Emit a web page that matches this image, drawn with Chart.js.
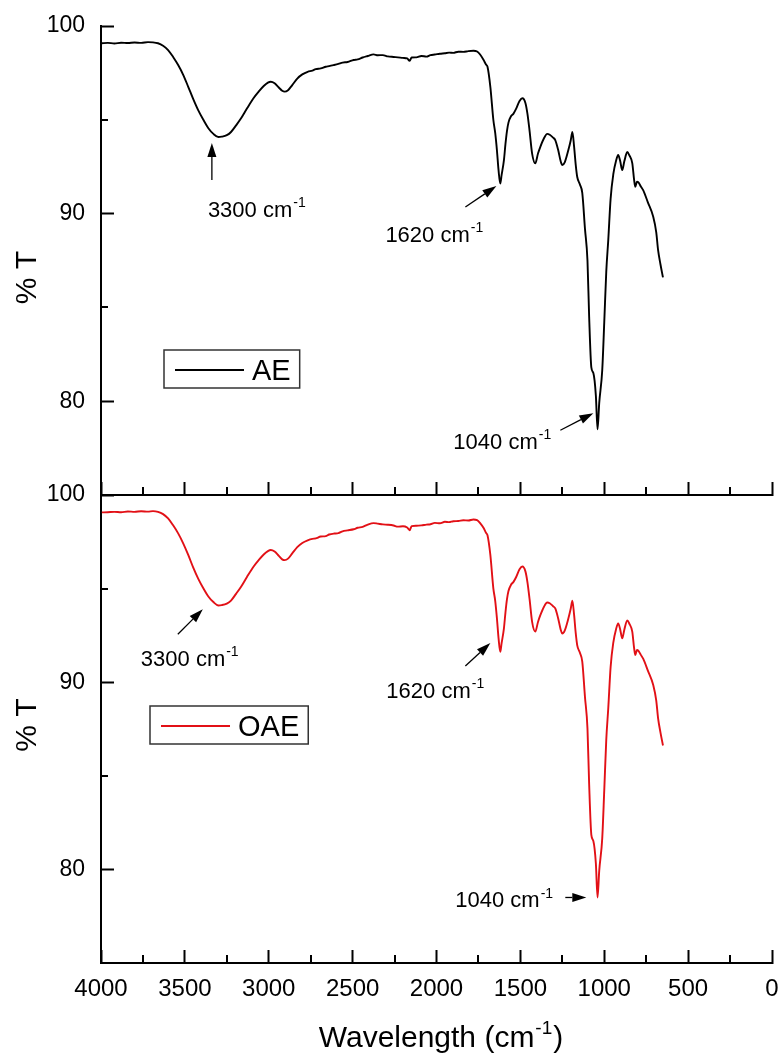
<!DOCTYPE html>
<html lang="en">
  <head>
    <meta charset="UTF-8" />
    <script src="https://cdn.jsdelivr.net/npm/chart.js"></script>
    <title>FTIR AE / OAE</title>
    <style>
      body { margin: 0; background: #fff; }
      #wrap { position: relative; width: 783px; height: 1056px; }
      #wrap canvas { position: absolute; left: 0; }
      #topChart { top: 0; }
      #bottomChart { top: 470px; }
    </style>
  </head>
  <body>
    <div id="wrap">
      <canvas id="topChart" width="783" height="500"></canvas>
      <canvas id="bottomChart" width="783" height="586"></canvas>
    </div>

    <script>
      // spectra (wavenumber in cm-1, transmittance in %)
      const wavenumbers = [
        3995, 3960, 3920, 3880, 3840, 3800, 3760, 3720, 3690, 3660,
        3630, 3600, 3570, 3540, 3510, 3480, 3450, 3420, 3390, 3360,
        3330, 3300, 3280, 3250, 3225, 3195, 3165, 3130, 3090, 3060,
        3030, 3005, 2988, 2965, 2940, 2920, 2905, 2885, 2860, 2830,
        2800, 2768, 2740, 2720, 2690, 2660, 2640, 2611, 2585, 2560,
        2530, 2494, 2470, 2440, 2410, 2375, 2350, 2320, 2290, 2256,
        2230, 2200, 2175, 2160, 2148, 2120, 2090, 2060, 2036, 2010,
        1980, 1950, 1925, 1900, 1870, 1840, 1810, 1780, 1758, 1740,
        1720, 1705, 1696, 1679, 1661, 1650, 1640, 1630, 1620, 1612,
        1598, 1589, 1580, 1571, 1555, 1541, 1525, 1505, 1488, 1470,
        1458, 1445, 1430, 1411, 1395, 1381, 1360, 1340, 1325, 1305,
        1292, 1275, 1260, 1250, 1235, 1214, 1200, 1190, 1180, 1170,
        1161, 1145, 1131, 1115, 1100, 1090, 1077, 1065, 1050, 1040,
        1030, 1012, 1000, 988, 976, 962, 946, 930, 917, 905,
        893, 880, 863, 850, 833, 822, 815, 805, 795, 782,
        768, 740, 708, 690, 679, 665, 650
      ];
      const aeT = [
        99.08, 99.10, 99.07, 99.11, 99.09, 99.12, 99.10, 99.14, 99.13, 99.08,
        98.95, 98.72, 98.35, 97.92, 97.40, 96.76, 96.10, 95.50, 95.00, 94.55,
        94.25, 94.08, 94.10, 94.18, 94.35, 94.70, 95.08, 95.60, 96.16, 96.50,
        96.80, 96.98, 97.03, 96.95, 96.72, 96.55, 96.50, 96.58, 96.85, 97.20,
        97.42, 97.56, 97.62, 97.70, 97.74, 97.83, 97.86, 97.92, 97.98, 98.05,
        98.08, 98.19, 98.22, 98.32, 98.40, 98.49, 98.44, 98.45, 98.38, 98.35,
        98.33, 98.30, 98.27, 98.15, 98.32, 98.33, 98.40, 98.37, 98.45, 98.48,
        98.52, 98.55, 98.58, 98.57, 98.63, 98.62, 98.66, 98.68, 98.64, 98.48,
        98.20, 97.95, 97.83, 96.76, 94.99, 94.30, 93.40, 92.30, 91.60, 92.05,
        92.85, 93.70, 94.40, 94.85, 95.20, 95.33, 95.60, 96.00, 96.15, 95.90,
        95.33, 94.40, 93.20, 92.68, 93.20, 93.56, 94.00, 94.25, 94.20, 94.05,
        93.92, 93.40, 92.80, 92.59, 92.75, 93.39, 93.90, 94.35, 93.60, 92.60,
        91.95, 91.55, 91.10, 89.20, 87.50, 84.50, 81.80, 81.50, 80.30, 78.50,
        79.90, 81.65, 84.20, 86.90, 88.60, 90.80, 92.10, 92.80, 93.12, 92.80,
        92.32, 92.80, 93.28, 93.10, 92.69, 91.80, 91.43, 91.70, 91.65, 91.45,
        91.25, 90.60, 89.83, 89.00, 88.05, 87.30, 86.60
      ];
      const oaeT = [
        99.07, 99.08, 99.10, 99.08, 99.12, 99.10, 99.13, 99.11, 99.14, 99.10,
        98.98, 98.75, 98.38, 97.95, 97.42, 96.80, 96.12, 95.52, 95.02, 94.58,
        94.28, 94.10, 94.12, 94.20, 94.36, 94.72, 95.10, 95.62, 96.18, 96.52,
        96.82, 97.00, 97.06, 96.98, 96.75, 96.56, 96.52, 96.60, 96.88, 97.22,
        97.44, 97.58, 97.66, 97.68, 97.78, 97.80, 97.89, 97.94, 97.96, 98.06,
        98.11, 98.17, 98.25, 98.30, 98.42, 98.50, 98.47, 98.43, 98.41, 98.37,
        98.31, 98.33, 98.26, 98.12, 98.34, 98.36, 98.38, 98.42, 98.44, 98.51,
        98.49, 98.57, 98.55, 98.60, 98.61, 98.65, 98.64, 98.69, 98.66, 98.50,
        98.25, 97.98, 97.85, 96.80, 95.00, 94.35, 93.44, 92.34, 91.62, 92.08,
        92.88, 93.72, 94.42, 94.87, 95.22, 95.36, 95.62, 96.03, 96.18, 95.92,
        95.35, 94.42, 93.22, 92.70, 93.22, 93.58, 94.02, 94.26, 94.22, 94.06,
        93.94, 93.42, 92.82, 92.60, 92.77, 93.40, 93.92, 94.36, 93.62, 92.62,
        91.97, 91.57, 91.10, 89.22, 87.52, 84.55, 81.85, 81.52, 80.32, 78.50,
        79.92, 81.66, 84.22, 86.92, 88.62, 90.82, 92.12, 92.82, 93.14, 92.82,
        92.34, 92.82, 93.30, 93.12, 92.70, 91.82, 91.45, 91.72, 91.66, 91.46,
        91.26, 90.62, 89.85, 89.02, 88.07, 87.32, 86.62
      ];

      const xTickValues = [4000, 3500, 3000, 2500, 2000, 1500, 1000, 500, 0];
      const xMinorTicks = [3750, 3250, 2750, 2250, 1750, 1250, 750, 250];
      const yTickValues = [80, 90, 100];
      const yMinorTicks = [85, 95];

      const FONT = "'Liberation Sans', Arial, sans-serif";
      Chart.defaults.font.family = FONT;
      Chart.defaults.color = '#000';

      function font(size) {
        return size + 'px ' + FONT;
      }

      // text with a "-1" superscript after it, e.g. cm-1
      function supText(ctx, base, sup, tail, x, y, size, align) {
        const supSize = Math.round(size * 0.62);
        ctx.font = font(size);
        const w1 = ctx.measureText(base).width;
        const w3 = tail ? ctx.measureText(tail).width : 0;
        ctx.font = font(supSize);
        const w2 = ctx.measureText(sup).width;
        const left = align === 'center' ? x - (w1 + w2 + w3 + 1) / 2 : x;
        ctx.textAlign = 'left';
        ctx.textBaseline = 'alphabetic';
        ctx.font = font(size);
        ctx.fillText(base, left, y);
        ctx.font = font(supSize);
        ctx.fillText(sup, left + w1 + 1, y - size * 0.45);
        if (tail) {
          ctx.font = font(size);
          ctx.fillText(tail, left + w1 + w2 + 2, y);
        }
      }

      function arrow(ctx, x0, y0, x1, y1) {
        const ang = Math.atan2(y1 - y0, x1 - x0);
        const head = 14, half = 4.5;
        const bx = x1 - head * Math.cos(ang), by = y1 - head * Math.sin(ang);
        ctx.lineWidth = 1.3;
        ctx.beginPath();
        ctx.moveTo(x0, y0);
        ctx.lineTo(bx, by);
        ctx.stroke();
        ctx.beginPath();
        ctx.moveTo(x1, y1);
        ctx.lineTo(bx + half * Math.sin(ang), by - half * Math.cos(ang));
        ctx.lineTo(bx - half * Math.sin(ang), by + half * Math.cos(ang));
        ctx.closePath();
        ctx.fill();
      }

      // minor ticks, y title, peak arrows, boxed legend and the x title
      const spectrumMarks = {
        id: 'spectrumMarks',
        afterDraw(chart, args, opts) {
          const ctx = chart.ctx;
          const xs = chart.scales.x, ys = chart.scales.y;
          const area = chart.chartArea;
          ctx.save();
          ctx.strokeStyle = '#000';
          ctx.fillStyle = '#000';
          ctx.lineWidth = 2;
          xMinorTicks.forEach(v => {
            const px = Math.round(xs.getPixelForValue(v));
            ctx.beginPath();
            ctx.moveTo(px, area.bottom);
            ctx.lineTo(px, area.bottom - 8);
            ctx.stroke();
          });
          yMinorTicks.forEach(v => {
            const py = Math.round(ys.getPixelForValue(v));
            ctx.beginPath();
            ctx.moveTo(area.left, py);
            ctx.lineTo(area.left + 7, py);
            ctx.stroke();
          });

          // rotated "% T", placed a little off the panel middle
          ctx.save();
          ctx.translate(28, (area.top + area.bottom) / 2 + (opts.yTitleShift || 0));
          ctx.rotate(-Math.PI / 2);
          ctx.font = font(30);
          ctx.textAlign = 'center';
          ctx.textBaseline = 'middle';
          ctx.fillText(ys.options.title.text, 0, 0);
          ctx.restore();

          (opts.arrows || []).forEach(a => {
            const tx = xs.getPixelForValue(a.at[0]);
            const ty = ys.getPixelForValue(a.at[1]);
            arrow(ctx, tx + a.tail[0], ty + a.tail[1], tx, ty);
            supText(ctx, a.label, '-1', '', tx + a.text[0], ty + a.text[1], 22);
          });

          if (opts.legend) {
            const ds = chart.data.datasets[0];
            const lx = area.left + opts.legend.dx, ly = area.top + opts.legend.dy;
            ctx.font = font(29);
            const tw = ctx.measureText(ds.label).width;
            ctx.strokeStyle = '#333';
            ctx.lineWidth = 1.5;
            ctx.strokeRect(lx, ly, tw + 97, 38);
            ctx.strokeStyle = ds.borderColor;
            ctx.lineWidth = 2;
            ctx.beginPath();
            ctx.moveTo(lx + 11, ly + 20);
            ctx.lineTo(lx + 80, ly + 20);
            ctx.stroke();
            ctx.textAlign = 'left';
            ctx.textBaseline = 'alphabetic';
            ctx.fillText(ds.label, lx + 88, ly + 30);
          }

          if (opts.xTitle) {
            supText(ctx, 'Wavelength (cm', '-1', ')', (area.left + area.right) / 2 + 4, area.bottom + 84, 30, 'center');
          }
          ctx.restore();
        },
      };

      function axisStyle() {
        return {
          grid: { drawOnChartArea: false, tickLength: -13, tickWidth: 2, tickColor: '#000' },
          border: { color: '#000', width: 2 },
        };
      }

      // keep the plot frame fixed: no extra room for overhanging labels
      function noPadding(s) {
        s.paddingLeft = 0;
        s.paddingRight = 0;
        s.paddingTop = 0;
        s.paddingBottom = 0;
      }

      function panel(canvasId, label, values, color, isBottom, marks) {
        return new Chart(document.getElementById(canvasId), {
          type: 'line',
          data: {
            datasets: [{
              label: label,
              data: wavenumbers.map((w, i) => ({ x: w, y: values[i] })),
              borderColor: color,
              borderWidth: 1.9,
              pointRadius: 0,
              fill: false,
              cubicInterpolationMode: 'monotone',
            }],
          },
          options: {
            responsive: false,
            animation: false,
            events: [],
            layout: { padding: { top: isBottom ? 25 : 26, right: 11, left: 0, bottom: 0 } },
            plugins: {
              legend: { display: false },
              tooltip: { enabled: false },
              spectrumMarks: marks,
            },
            scales: {
              x: {
                type: 'linear',
                reverse: true,
                min: 0,
                max: 4000,
                afterBuildTicks: s => { s.ticks = xTickValues.map(v => ({ value: v })); },
                afterFit: s => { s.height = isBottom ? 93 : 5; noPadding(s); },
                ...axisStyle(),
                ticks: {
                  display: isBottom,
                  padding: 25,
                  font: { size: 24 },
                  maxRotation: 0,
                  autoSkip: false,
                  callback: v => String(v),
                },
              },
              y: {
                min: 75,
                max: 100,
                afterBuildTicks: s => { s.ticks = yTickValues.map(v => ({ value: v })); },
                afterFit: s => { s.width = 101; noPadding(s); },
                ...axisStyle(),
                ticks: { padding: 29, font: { size: 23 }, callback: v => String(v) },
                title: { display: false, text: '% T' },
              },
            },
          },
          plugins: [spectrumMarks],
        });
      }

      panel('topChart', 'AE', aeT, '#000', false, {
        arrows: [
          { label: '3300 cm', at: [3339, 93.76], tail: [0, 37], text: [-4, 74] },
          { label: '1620 cm', at: [1643, 91.47], tail: [-31, 21], text: [-111, 56] },
          { label: '1040 cm', at: [1065, 79.36], tail: [-33, 17], text: [-140, 36] },
        ],
        legend: { dx: 63, dy: 324 },
        yTitleShift: 17,
      });

      panel('bottomChart', 'OAE', oaeT, 'rgb(226, 16, 22)', true, {
        arrows: [
          { label: '3300 cm', at: [3393, 93.9], tail: [-25, 25], text: [-62, 57] },
          { label: '1620 cm', at: [1679, 92.09], tail: [-25, 23], text: [-104, 55] },
          { label: '1040 cm', at: [1107, 78.5], tail: [-21, 0], text: [-131, 10] },
        ],
        legend: { dx: 49, dy: 211 },
        yTitleShift: -4,
        xTitle: true,
      });
    </script>
  </body>
</html>
